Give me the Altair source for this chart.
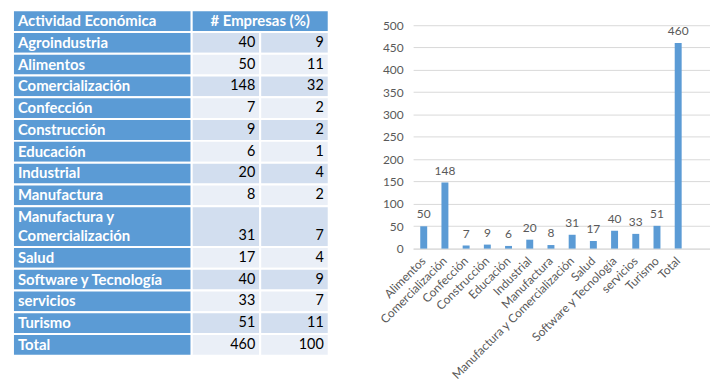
import textwrap
import altair as alt
import pandas as pd

# ---------------- data ----------------
categories = ["Agroindustria", "Alimentos", "Comercialización", "Confección",
              "Construcción", "Educación", "Industrial", "Manufactura",
              "Manufactura y Comercialización", "Salud", "Software y Tecnología",
              "servicios", "Turismo", "Total"]
empresas = [40, 50, 148, 7, 9, 6, 20, 8, 31, 17, 40, 33, 51, 460]
porcentaje = [9, 11, 32, 2, 2, 1, 4, 2, 7, 4, 9, 7, 11, 100]
header = ["Actividad Económica", "# Empresas (%)"]

chart_categories = categories[1:]
chart_values = empresas[1:]
y_ticks = list(range(0, 501, 50))

# ---------------- style ----------------
FONT = "Lato"
BLUE = "#5B9BD5"
DARK = "#D2DEEF"
LIGHT = "#EAEFF7"
GRAY = "#595959"
GRID = "#D9D9D9"

# table layout (column edges in px)
C1 = (0, 180)
C2 = (180, 249)
C3 = (249, 318)
TABLE_W = 318
TABLE_H = 348
EXTRA_LINE = 0.88

cells, left_txt, center_txt, right_txt = [], [], [], []
y = 0.0
cells.append(dict(x0=C1[0], x1=C1[1], y0=y, y1=y + 1, fill=BLUE))
cells.append(dict(x0=C2[0], x1=C3[1], y0=y, y1=y + 1, fill=BLUE))
left_txt.append(dict(x=C1[0] + 5, y=y + 0.5, t=header[0]))
center_txt.append(dict(x=(C2[0] + C3[1]) / 2, y=y + 0.5, t=header[1]))
y += 1
for i, (c, n, p) in enumerate(zip(categories, empresas, porcentaje)):
    lines = textwrap.wrap(c, 22)
    h = 1 + EXTRA_LINE * (len(lines) - 1)
    fill = DARK if i % 2 == 0 else LIGHT
    cells.append(dict(x0=C1[0], x1=C1[1], y0=y, y1=y + h, fill=BLUE))
    cells.append(dict(x0=C2[0], x1=C2[1], y0=y, y1=y + h, fill=fill))
    cells.append(dict(x0=C3[0], x1=C3[1], y0=y, y1=y + h, fill=fill))
    left_txt.append(dict(x=C1[0] + 5, y=y + 0.5, t="\n".join(lines)))
    right_txt.append(dict(x=C2[1] - 5, y=y + h - 0.5, t=str(n)))
    right_txt.append(dict(x=C3[1] - 5, y=y + h - 0.5, t=str(p)))
    y += h
TOTAL_UNITS = y

xs = alt.Scale(domain=[0, TABLE_W], nice=False, zero=False)
ys = alt.Scale(domain=[0, TOTAL_UNITS], nice=False, zero=False, reverse=True)

rects = alt.Chart(pd.DataFrame(cells)).mark_rect(stroke="white", strokeWidth=2).encode(
    x=alt.X("x0:Q", scale=xs, axis=None),
    x2="x1:Q",
    y=alt.Y("y0:Q", scale=ys, axis=None),
    y2="y1:Q",
    fill=alt.Fill("fill:N", scale=None),
)
lt = alt.Chart(pd.DataFrame(left_txt)).mark_text(
    align="left", baseline="middle", font=FONT, fontSize=15, fontWeight="bold",
    color="white", lineBreak="\n", lineHeight=19).encode(
    x=alt.X("x:Q", scale=xs, axis=None), y=alt.Y("y:Q", scale=ys, axis=None), text="t:N")
ct = alt.Chart(pd.DataFrame(center_txt)).mark_text(
    align="center", baseline="middle", font=FONT, fontSize=15, fontWeight="bold",
    color="white").encode(
    x=alt.X("x:Q", scale=xs, axis=None), y=alt.Y("y:Q", scale=ys, axis=None), text="t:N")
rt = alt.Chart(pd.DataFrame(right_txt)).mark_text(
    align="right", baseline="middle", font=FONT, fontSize=14.5, color="black").encode(
    x=alt.X("x:Q", scale=xs, axis=None), y=alt.Y("y:Q", scale=ys, axis=None), text="t:N")

table = alt.layer(rects, lt, ct, rt).properties(width=TABLE_W, height=TABLE_H)

# ---------------- bar chart ----------------
bar_df = pd.DataFrame({"cat": chart_categories, "val": chart_values})
x_enc = alt.X("cat:N", sort=None, scale=alt.Scale(domain=chart_categories + [" "]),
              axis=alt.Axis(title=None, labelAngle=315, labelAlign="right",
                            labelBaseline="middle", labelPadding=10, ticks=False,
                            domainColor=GRID, labelColor=GRAY, labelFontSize=12,
                            labelFont=FONT, grid=False))
y_enc = alt.Y("val:Q", scale=alt.Scale(domain=[0, 533.3], nice=False),
              axis=alt.Axis(title=None, values=y_ticks, domain=False, ticks=False,
                            gridColor=GRID, labelPadding=10, labelColor=GRAY,
                            labelFontSize=12, labelFont=FONT, minExtent=35, maxExtent=35))
bars = alt.Chart(bar_df).mark_bar(color=BLUE, size=7).encode(x=x_enc, y=y_enc)
vals = alt.Chart(bar_df).mark_text(baseline="bottom", dy=-5, font=FONT, fontSize=12,
                                   color=GRAY).encode(x=x_enc, y=y_enc, text="val:Q")
barchart = alt.layer(bars, vals).properties(width=299, height=240)

chart = alt.hconcat(table, barchart, spacing=48).properties(
    padding={"left": 4, "top": 0, "right": 0, "bottom": 0}
).configure_view(stroke=None)

chart.save("out.html", embed_options={"renderer": "svg", "actions": False})
